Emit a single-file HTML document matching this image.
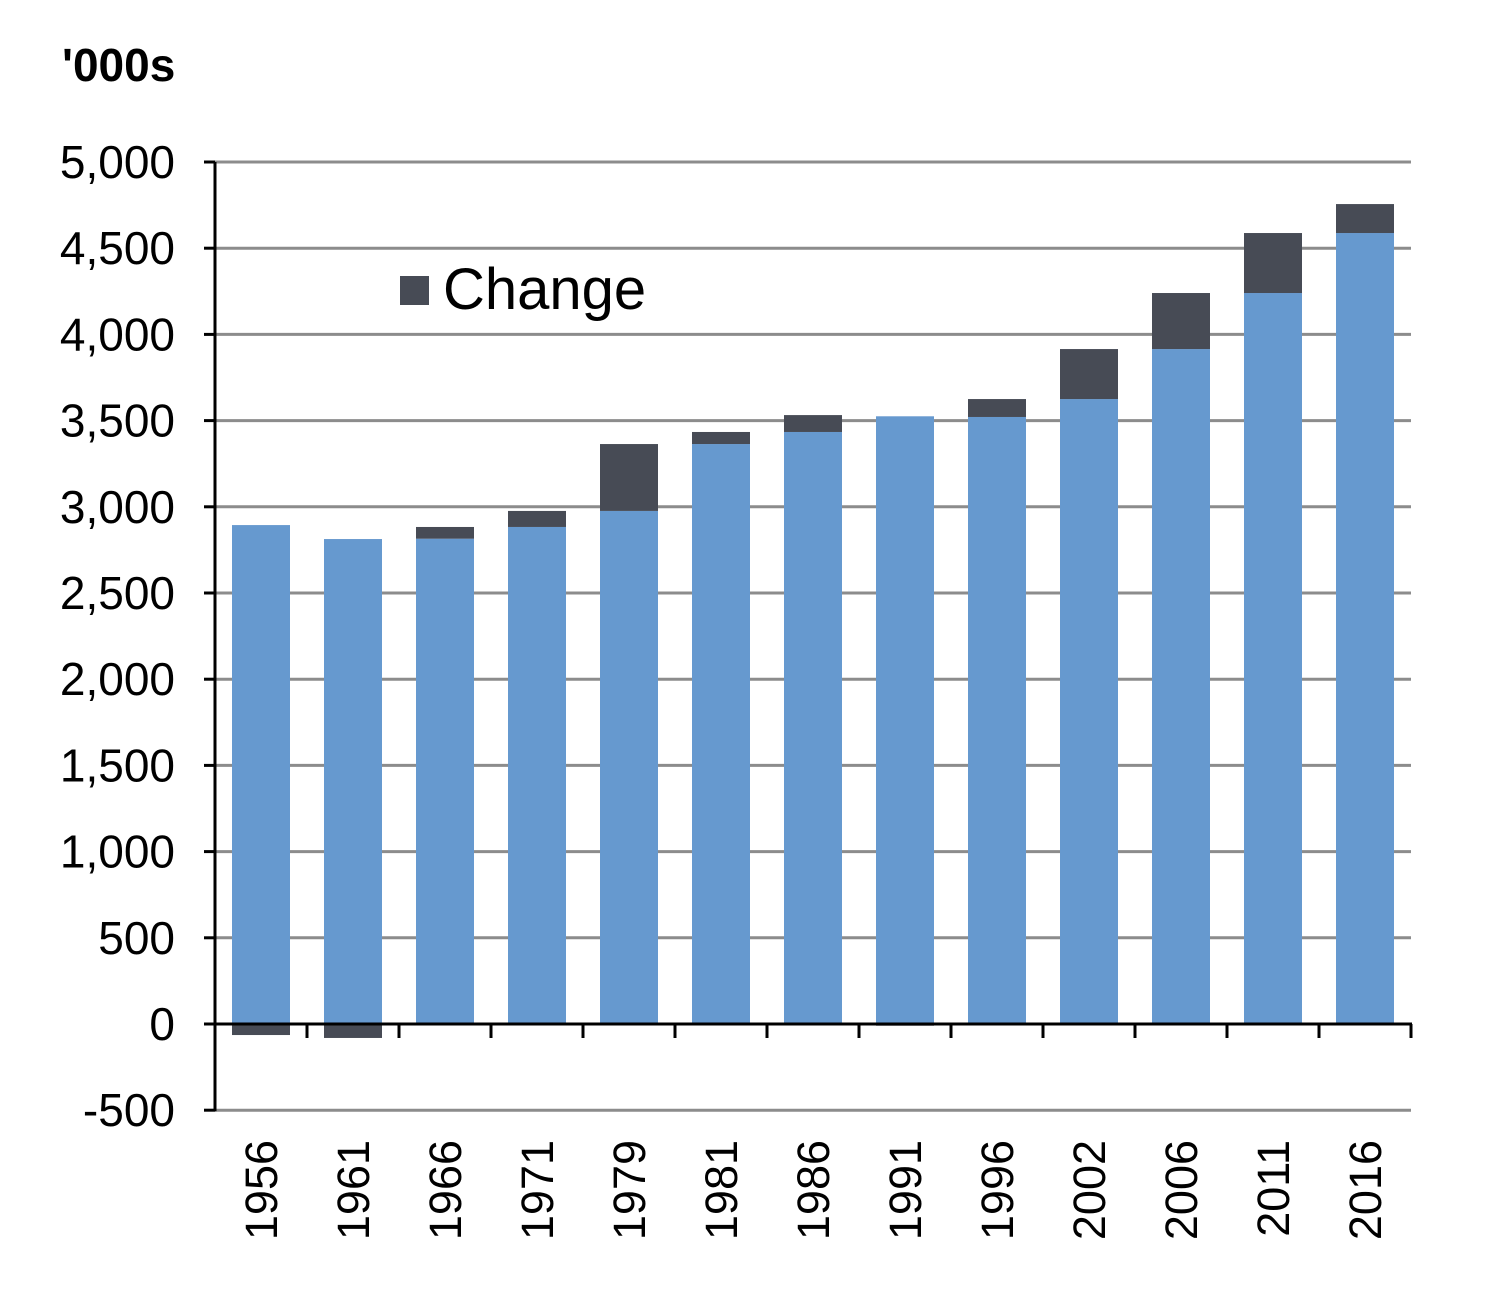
<!DOCTYPE html>
<html><head><meta charset="utf-8"><style>
body{margin:0;background:#fff}
svg{display:block;font-family:"Liberation Sans",Arial,sans-serif}
</style></head><body>
<svg id="chart" width="1502" height="1314" viewBox="0 0 1502 1314">
<text x="62" y="81" font-size="46" font-weight="bold">'000s</text>
<g id="grid"></g><g id="bars"></g><g id="axes"></g><g id="labels"></g>
<g>
<rect x="400" y="276" width="29" height="29" fill="#474B55"/>
<text x="443" y="309" font-size="58">Change</text>
</g>
</svg>
<script>
const years=["1956","1961","1966","1971","1979","1981","1986","1991","1996","2002","2006","2011","2016"];
const baseValues=[2894,2813,2815,2883,2976,3364,3434,3525,3521,3625,3915,4240,4588];
const changeValues=[-64,-81,68,93,388,70,98,-10,104,290,325,348,168];
const yTicks=[-500,0,500,1000,1500,2000,2500,3000,3500,4000,4500,5000];
const yTickLabels=["-500","0","500","1,000","1,500","2,000","2,500","3,000","3,500","4,000","4,500","5,000"];
const NS="http://www.w3.org/2000/svg";
const left=215,right=1411,y0=1024,pxPer=862/5000;
const band=(right-left)/years.length,bw=58;
const Y=v=>y0-v*pxPer, X=i=>left+band*(i+0.5);
function mk(tag,attrs,parent){const e=document.createElementNS(NS,tag);for(const k in attrs)e.setAttribute(k,attrs[k]);document.getElementById(parent).appendChild(e);return e;}
yTicks.forEach((t,i)=>{
 if(t!==0){const g=mk('line',{x1:left,x2:right,y1:Y(t),y2:Y(t),stroke:'#8c8c8c','stroke-width':3},'grid');
 
 }
 const tk=mk('line',{x1:204,x2:left,y1:Y(t),y2:Y(t),stroke:'#000','stroke-width':3},'axes');
 
 
 const tx=mk('text',{x:175,y:Y(t)+16,'font-size':46,'text-anchor':'end'},'labels');
 tx.textContent=yTickLabels[i];
 
 
});
years.forEach((yr,i)=>{
 const b=baseValues[i],c=changeValues[i],x=X(i)-bw/2;
 const r=mk('rect',{x:x,y:Y(b),width:bw,height:Y(0)-Y(b),fill:'#6699CF'},'bars');
 
 
 let top,h;
 if(c>=0){top=Y(b+c);h=Y(b)-Y(b+c);}else{top=Y(0);h=Y(c)-Y(0);}
 const r2=mk('rect',{x:x,y:top,width:bw,height:h,fill:'#474B55'},'bars');
 
 
 const tx=mk('text',{x:0,y:0,'font-size':45,'text-anchor':'end',transform:`translate(${X(i)+16},1140) rotate(-90)`},'labels');
 tx.textContent=yr;
 
 
 const xt=mk('line',{x1:left+band*(i+1),x2:left+band*(i+1),y1:y0,y2:1038,stroke:'#000','stroke-width':3},'axes');
 
 
});
const xa=mk('line',{x1:204,x2:right+1,y1:y0,y2:y0,stroke:'#000','stroke-width':3},'axes');


const ya=mk('line',{x1:left,x2:left,y1:Y(5000),y2:Y(-500)+1,stroke:'#000','stroke-width':3},'axes');


</script>
</body></html>
